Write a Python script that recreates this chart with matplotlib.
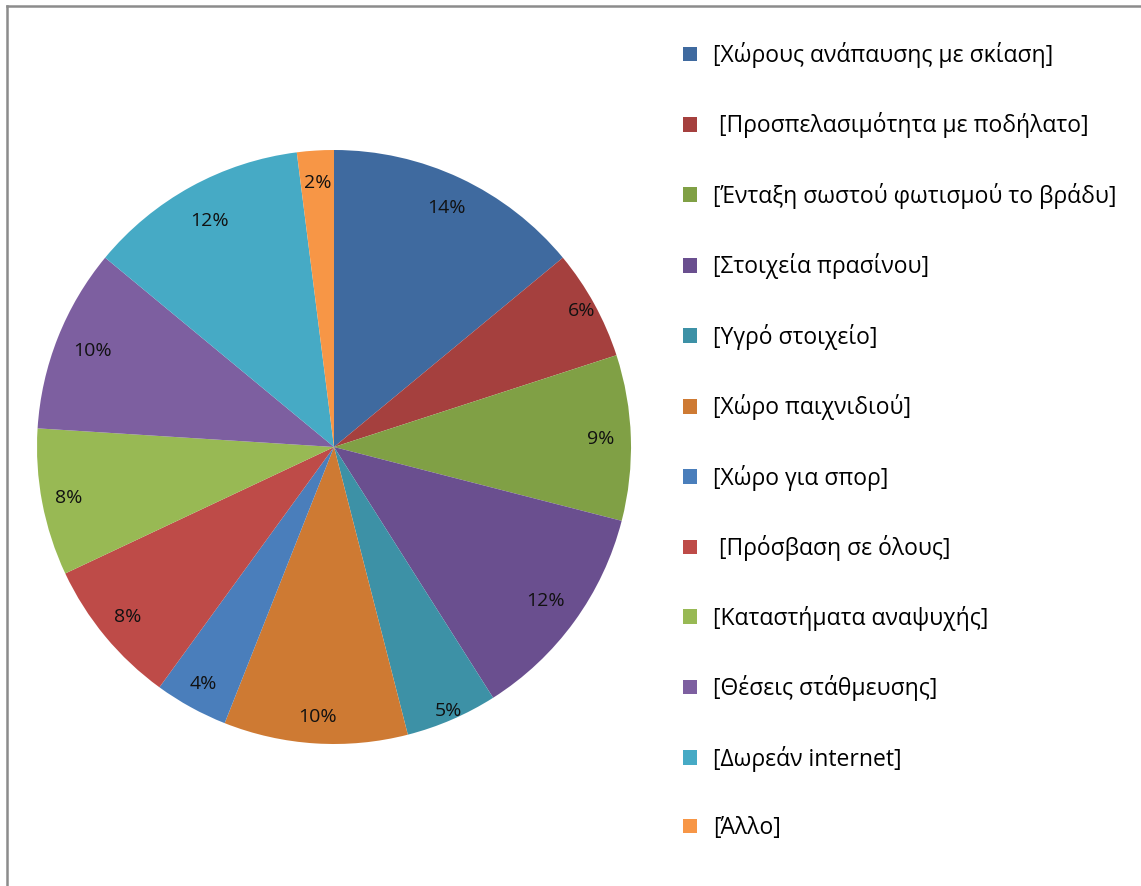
import numpy as np
import matplotlib
matplotlib.use('Agg')
import matplotlib.pyplot as plt
from matplotlib.patches import Patch
from matplotlib.lines import Line2D

plt.rcParams['font.family'] = ['Open Sans', 'DejaVu Sans']

# data
labels = ['[Χώρους ανάπαυσης με σκίαση]',
          ' [Προσπελασιμότητα με ποδήλατο]',
          '[Ένταξη σωστού φωτισμού το βράδυ]',
          '[Στοιχεία πρασίνου]',
          '[Υγρό στοιχείο]',
          '[Χώρο παιχνιδιού]',
          '[Χώρο για σπορ]',
          ' [Πρόσβαση σε όλους]',
          '[Καταστήματα αναψυχής]',
          '[Θέσεις στάθμευσης]',
          '[Δωρεάν internet]',
          '[Άλλο]']
values = [14, 6, 9, 12, 5, 10, 4, 8, 8, 10, 12, 2]

colors = ['#3f6a9f', '#a5403e', '#80a045', '#6a4f8f', '#3d91a6', '#ce7a33',
          '#4a7ebb', '#be4b48', '#98b954', '#7d5fa0', '#46aac5', '#f79646']
# radial position of each percentage label (fraction of radius)
label_r = [0.89, 0.95, 0.90, 0.88, 0.97, 0.91, 0.91, 0.90, 0.91, 0.875, 0.87, 0.89]

W, H = 1141, 886
fig = plt.figure(figsize=(W / 100, H / 100), dpi=100)
ax = fig.add_axes([37 / W, 1 - 744 / H, 594 / W, 594 / H])

wedges, _ = ax.pie(values, colors=colors, startangle=90, counterclock=False,
                   wedgeprops=dict(linewidth=0))
ax.set_xlim(-1, 1)
ax.set_ylim(-1, 1)
ax.set_aspect('equal')

total = sum(values)
for w, v, r in zip(wedges, values, label_r):
    mid = np.deg2rad((w.theta1 + w.theta2) / 2)
    ax.text(r * np.cos(mid), r * np.sin(mid), f'{v / total * 100:.0f}%',
            ha='center', va='center', fontsize=14, color='#111111')

handles = [Patch(facecolor=c, edgecolor='none') for c in colors]
fig.legend(handles, labels, loc='upper left', bbox_to_anchor=(683 / W, 1 - 42 / H),
           frameon=False, fontsize=16.5, handlelength=0.61, handleheight=0.61,
           handletextpad=0.7, labelspacing=1.94, borderaxespad=0, borderpad=0)

# chart frame
fig.add_artist(Line2D([7 / W, 1], [1 - 6 / H, 1 - 6 / H], color='#8c8c8c', lw=1.8,
                      transform=fig.transFigure))
fig.add_artist(Line2D([7 / W, 7 / W], [0, 1 - 6 / H], color='#8c8c8c', lw=1.8,
                      transform=fig.transFigure))

fig.savefig('out.png', dpi=100, facecolor='white')
